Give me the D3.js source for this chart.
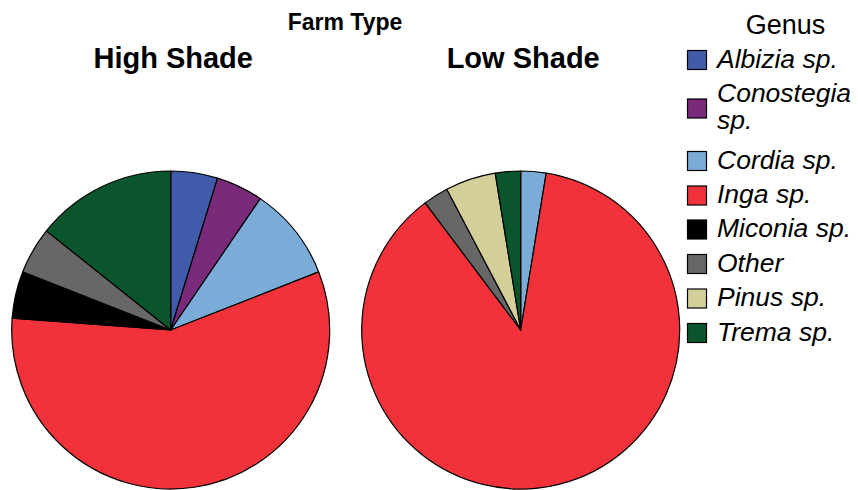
<!DOCTYPE html>
<html>
<head>
<meta charset="utf-8">
<script src="https://cdn.jsdelivr.net/npm/d3@7"></script>
<style>
  html, body { margin: 0; padding: 0; background: #fff; }
  svg { display: block; font-family: "Liberation Sans", Arial, Helvetica, sans-serif; }
</style>
</head>
<body>
<svg id="chart" width="858" height="490"></svg>
<script>
// Genus list (legend order) and colours
const genera = ["Albizia sp.", "Conostegia sp.", "Cordia sp.", "Inga sp.", "Miconia sp.", "Other", "Pinus sp.", "Trema sp."];
const genusColors = ["#3f5baa", "#7a2a7b", "#7babd7", "#f1323a", "#000000", "#676767", "#d4cf98", "#0b552d"];

// Tree counts per genus for each farm type
const farmTypes = ["High Shade", "Low Shade"];
const highShadeCounts = [1, 1, 2, 12, 1, 1, 0, 3];
const lowShadeCounts = [0, 0, 1, 34, 0, 1, 2, 1];

const svg = d3.select("#chart");
const color = d3.scaleOrdinal().domain(genera).range(genusColors);

const radius = 159;
const pieCenters = [[170.7, 330], [520.7, 330]];
const countsByFarm = [highShadeCounts, lowShadeCounts];

const pie = d3.pie().sort(null).value(d => d.value);
const arc = d3.arc().innerRadius(0).outerRadius(radius);

// Overall heading
svg.append("text")
  .attr("x", 345).attr("y", 30)
  .attr("text-anchor", "middle")
  .attr("font-weight", "bold")
  .attr("font-size", 23)
  .text("Farm Type");

farmTypes.forEach((farm, i) => {
  const [cx, cy] = pieCenters[i];
  const data = genera.map((g, j) => ({ genus: g, value: countsByFarm[i][j] }))
    .filter(d => d.value > 0);

  const g = svg.append("g").attr("transform", `translate(${cx},${cy})`);
  g.selectAll("path")
    .data(pie(data))
    .join("path")
    .attr("d", arc)
    .attr("fill", d => color(d.data.genus))
    .attr("stroke", "#000")
    .attr("stroke-width", 1.2)
    .attr("stroke-linejoin", "round");

  svg.append("text")
    .attr("x", cx + 2.5).attr("y", 68)
    .attr("text-anchor", "middle")
    .attr("font-weight", "bold")
    .attr("font-size", 29)
    .text(farm);
});

// Legend
const legend = svg.append("g");
legend.append("text")
  .attr("x", 785.5).attr("y", 33.5)
  .attr("text-anchor", "middle")
  .attr("font-size", 27)
  .text("Genus");

const boxCenters = [60, 108.5, 161, 195.5, 229.5, 264, 298.5, 333];
const boxSize = 19;
genera.forEach((g, j) => {
  const yc = boxCenters[j];
  legend.append("rect")
    .attr("x", 687.5).attr("y", yc - boxSize / 2)
    .attr("width", boxSize).attr("height", boxSize)
    .attr("fill", color(g))
    .attr("stroke", "#000")
    .attr("stroke-width", 1.2);

  const words = g === "Conostegia sp." ? ["Conostegia", "sp."] : [g];
  const lineGap = 27;
  const firstBaseline = yc + 7.5 - (words.length - 1) * lineGap / 2 - (words.length > 1 ? 0.5 : 0);
  const t = legend.append("text")
    .attr("font-size", 26.5)
    .attr("font-style", "italic");
  words.forEach((w, k) => {
    t.append("tspan")
      .attr("x", 717)
      .attr("y", firstBaseline + k * lineGap)
      .text(w);
  });
});
</script>
</body>
</html>
